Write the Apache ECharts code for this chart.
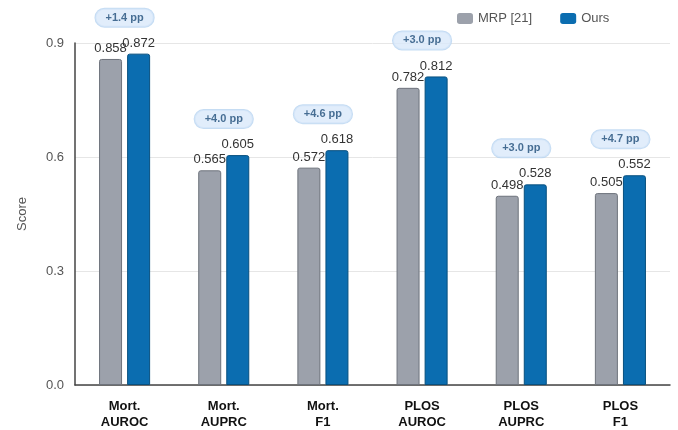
<!DOCTYPE html>
<html>
<head>
<meta charset="utf-8">
<script src="https://cdn.jsdelivr.net/npm/echarts@6/dist/echarts.min.js"></script>
<style>html,body{margin:0;padding:0;background:#fff;}#chart{width:678px;height:430px;}</style>
</head>
<body>
<div id="chart"></div>
<script>
const categories = ['Mort.\nAUROC', 'Mort.\nAUPRC', 'Mort.\nF1', 'PLOS\nAUROC', 'PLOS\nAUPRC', 'PLOS\nF1'];
const mrpValues = [0.858, 0.565, 0.572, 0.782, 0.498, 0.505];
const oursValues = [0.872, 0.605, 0.618, 0.812, 0.528, 0.552];
const gainLabels = ['+1.4 pp', '+4.0 pp', '+4.6 pp', '+3.0 pp', '+3.0 pp', '+4.7 pp'];
const yTicks = [0, 0.3, 0.6, 0.9];

const FONT = 'Liberation Sans, Arial, sans-serif';
const chart = echarts.init(document.getElementById('chart'), null, {renderer: 'canvas'});
const badgeData = categories.map((c, i) => ({value: Math.max(mrpValues[i], oursValues[i]), label: {formatter: gainLabels[i]}}));

chart.setOption({
  animation: false,
  textStyle: {fontFamily: FONT},
  grid: {left: 75, right: 8, top: 43, bottom: 39, containLabel: false},
  legend: {
    data: ['MRP [21]', 'Ours'],
    left: 452, top: 7,
    itemWidth: 16, itemHeight: 11, itemGap: 28,
    icon: 'roundRect',
    itemStyle: {borderWidth: 0},
    textStyle: {fontSize: 13, color: '#555', fontFamily: FONT}
  },
  xAxis: {
    type: 'category',
    data: categories,
    axisLine: {show: true, lineStyle: {color: '#444', width: 1.5}},
    axisTick: {show: false},
    axisLabel: {fontSize: 13, fontWeight: 'bold', color: '#111', lineHeight: 16, margin: 13, fontFamily: FONT}
  },
  yAxis: {
    type: 'value',
    min: yTicks[0], max: yTicks[yTicks.length - 1], interval: 0.3,
    name: 'Score', nameLocation: 'middle', nameGap: 46,
    nameTextStyle: {fontSize: 13, color: '#555', fontFamily: FONT},
    axisLine: {show: true, lineStyle: {color: '#444', width: 1.5}},
    axisTick: {show: false},
    axisLabel: {fontSize: 13, color: '#555', margin: 11, formatter: v => v.toFixed(1), fontFamily: FONT},
    splitLine: {lineStyle: {color: '#e6e6e6', width: 1}}
  },
  series: [
    {
      name: 'MRP [21]', type: 'bar', data: mrpValues,
      barWidth: 23, barGap: '22%',
      itemStyle: {color: '#9ca1ab', borderColor: '#6e737c', borderWidth: 1, borderRadius: [2, 2, 0, 0]},
      label: {show: true, position: 'top', distance: 4, fontSize: 13, color: '#333', formatter: p => p.value.toFixed(3), fontFamily: FONT}
    },
    {
      name: 'Ours', type: 'bar', data: oursValues,
      barWidth: 23,
      itemStyle: {color: '#0b6db0', borderColor: '#08507f', borderWidth: 1, borderRadius: [2, 2, 0, 0]},
      label: {show: true, position: 'top', distance: 4, fontSize: 13, color: '#333', formatter: p => p.value.toFixed(3), fontFamily: FONT}
    },
    {
      name: 'gain', type: 'scatter', data: badgeData,
      symbolSize: 0, silent: true, clip: false,
      label: {
        show: true, position: 'inside', offset: [0, -36],
        fontSize: 11, fontWeight: 'bold', color: '#1f4e79',
        backgroundColor: '#d9e9fa', borderColor: '#b7d3f0', borderWidth: 1,
        borderRadius: 10, padding: [4, 10, 3, 10], fontFamily: FONT
      }
    }
  ]
});
</script>
</body>
</html>
